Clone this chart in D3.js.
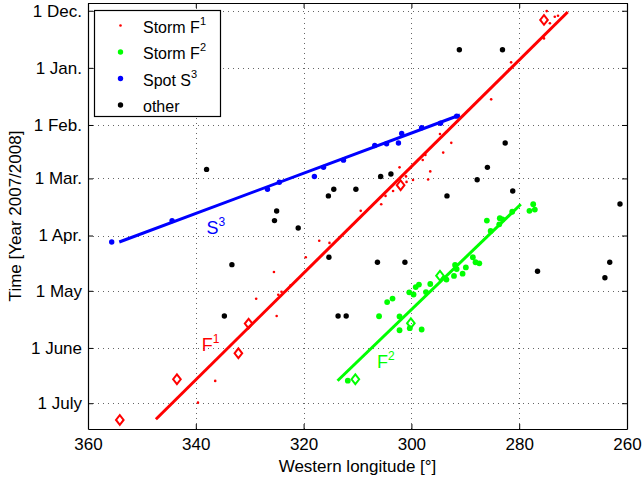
<!DOCTYPE html>
<html>
<head>
<meta charset="utf-8">
<script src="https://cdn.jsdelivr.net/npm/d3@7"></script>
<style>
  body { margin: 0; background: #fff; }
  text { font-family: "Liberation Sans", Arial, Helvetica, sans-serif; fill: #000; }
</style>
</head>
<body>
<div id="chart"></div>
<script>
// all times are days after 1 Dec. 2007, longitudes are western longitude in degrees

// Storm F1 (small red dots)
var f1Lon = [274.9, 273.4, 272.8, 274.3, 275.4, 281.5, 285.2, 294.7, 292.6, 294.1, 297.4, 297.9, 302.2,
             296.5, 301.0, 299.7, 296.9, 300.9, 303.4, 304.8, 305.6, 309.4, 317.1, 315.2, 319.6, 325.5,
             322.4, 324.1, 324.7, 328.8, 325.0, 336.4, 339.6];
var f1Day = [0.2, 3.3, 2.7, 6.8, 15.0, 28.0, 48.1, 66.9, 71.7, 77.0, 78.3, 81.0, 85.0,
             87.2, 89.9, 91.9, 91.6, 92.9, 97.8, 100.5, 105.0, 108.6, 124.8, 126.0, 133.8, 141.8,
             149.0, 152.5, 154.1, 156.3, 165.7, 200.9, 212.7];

// Storm F2 (green dots)
var f2Lon = [277.4, 278.1, 277.1, 281.3, 286.0, 283.6, 283.1, 283.7, 285.3, 288.6, 288.1, 287.4, 289.9,
             290.5, 291.9, 291.6, 292.1, 293.5, 296.5, 297.3, 298.6, 299.2, 299.6, 300.4, 303.5, 304.5,
             302.2, 306.0, 300.3, 302.2, 298.1, 311.8];
var f2Day = [105.0, 108.6, 107.9, 109.1, 113.9, 112.6, 113.2, 115.9, 119.5, 133.8, 136.5, 137.1, 139.3,
             142.7, 138.0, 140.2, 143.9, 145.9, 148.3, 152.7, 148.6, 150.0, 154.0, 152.8, 156.2, 158.1,
             165.9, 165.8, 172.3, 173.4, 173.0, 200.8];

// Spot S3 (blue dots)
var s3Lon = [355.6, 344.4, 326.7, 324.5, 318.0, 316.3, 312.6, 306.8, 304.6, 302.4, 301.8, 298.1, 294.6, 291.6];
var s3Day = [125.5, 113.9, 96.9, 93.1, 90.0, 85.0, 81.1, 73.1, 72.2, 71.8, 66.6, 63.5, 61.1, 57.2];

// other spots (black dots)
var otherLon = [291.1, 283.1, 282.6, 338.0, 305.7, 303.8, 314.4, 315.4, 310.3, 325.0, 325.4, 321.0, 333.3, 315.3,
                306.3, 301.2, 285.9, 287.8, 293.4, 281.2, 261.3, 276.6, 263.2, 264.1, 334.7, 313.6, 312.1];
var otherDay = [21.2, 21.2, 71.8, 86.1, 90.0, 88.6, 96.9, 100.5, 96.9, 108.7, 113.9, 117.9, 137.8, 133.8,
                136.5, 136.5, 85.0, 91.7, 100.5, 97.8, 104.9, 141.4, 136.5, 144.9, 165.7, 165.7, 165.7];

// diamonds
var f1DiamondLon = [354.1, 343.5, 332.1, 330.2, 302.0, 275.4];
var f1DiamondDay = [222.1, 200.0, 185.9, 169.8, 94.7, 5.0];
var f2DiamondLon = [310.4, 300.1, 294.7];
var f2DiamondDay = [200.0, 169.6, 143.8];

// fitted drift lines (start, end)
var f1FitLon = [347.4, 271.0], f1FitDay = [221.7, 0.7];
var f2FitLon = [313.7, 279.7], f2FitDay = [200.8, 105.0];
var s3FitLon = [354.2, 291.0], s3FitDay = [125.5, 56.6];

// axis ticks
var lonTicks = [360, 340, 320, 300, 280, 260];
var monthLabels = ["1 Dec.", "1 Jan.", "1 Feb.", "1 Mar.", "1 Apr.", "1 May", "1 June", "1 July"];
var monthDays = [0, 31, 62, 91, 122, 152, 183, 213];

var legendLabels = ["Storm F", "Storm F", "Spot S", "other"];
var legendSups = ["1", "2", "3", ""];
var legendColors = ["#ff0000", "#00ff00", "#0000ff", "#000000"];

var t0 = Date.UTC(2007, 11, 1);
function toDate(d) { return new Date(t0 + d * 864e5); }

var W = 643, H = 477;
var pL = 88, pR = 627, pT = 3, pB = 429;

var svg = d3.select("#chart").append("svg")
    .attr("width", W)
    .attr("height", H);

var x = d3.scaleLinear().domain([360, 260]).range([pL, pR]);
var y = d3.scaleUtc().domain([toDate(-4.2), toDate(227)]).range([pT, pB]);

var monthDates = monthDays.map(toDate);

// grid lines (dotted)
var grid = svg.append("g").attr("class", "grid");
grid.selectAll("line.gx")
    .data(lonTicks.slice(1, -1))
    .enter().append("line")
    .attr("x1", d => Math.round(x(d)) + 0.5).attr("x2", d => Math.round(x(d)) + 0.5)
    .attr("y1", pT).attr("y2", pB);
grid.selectAll("line.gy")
    .data(monthDates)
    .enter().append("line")
    .attr("y1", d => Math.round(y(d)) + 0.5).attr("y2", d => Math.round(y(d)) + 0.5)
    .attr("x1", pL).attr("x2", pR);
grid.selectAll("line")
    .style("stroke", "#666")
    .style("stroke-width", 1)
    .style("stroke-dasharray", "1,4");

// axes, ticks inward on all four sides
var fmt = function(d, i) { return monthLabels[i]; };
var gB = svg.append("g").attr("transform", "translate(0," + pB + ")")
    .call(d3.axisBottom(x).tickValues(lonTicks).tickSizeInner(-5).tickSizeOuter(0).tickPadding(9));
var gT = svg.append("g").attr("transform", "translate(0," + pT + ")")
    .call(d3.axisTop(x).tickValues(lonTicks).tickSizeInner(-5).tickSizeOuter(0).tickFormat(""));
var gL = svg.append("g").attr("transform", "translate(" + pL + ",0)")
    .call(d3.axisLeft(y).tickValues(monthDates).tickSizeInner(-5).tickSizeOuter(0).tickPadding(6).tickFormat(fmt));
var gR = svg.append("g").attr("transform", "translate(" + pR + ",0)")
    .call(d3.axisRight(y).tickValues(monthDates).tickSizeInner(-5).tickSizeOuter(0).tickFormat(""));

[gB, gT, gL, gR].forEach(function(g) {
    g.selectAll("path.domain").style("stroke", "#000").style("stroke-width", 1.2);
    g.selectAll(".tick line").style("stroke", "#000");
    g.selectAll("text").style("font-size", "17px").style("fill", "#000")
        .style("font-family", "'Liberation Sans', Arial, sans-serif");
});

// axis titles
svg.append("text")
    .attr("x", (pL + pR) / 2).attr("y", 472)
    .attr("text-anchor", "middle")
    .style("font-size", "17px")
    .text("Western longitude [°]");
svg.append("text")
    .attr("transform", "translate(21," + (pT + pB) / 2 + ") rotate(-90)")
    .attr("text-anchor", "middle")
    .style("font-size", "17px")
    .text("Time [Year 2007/2008]");

var plot = svg.append("g");

function dots(lons, days, color, r) {
    plot.append("g").selectAll("circle")
        .data(lons)
        .enter().append("circle")
        .attr("cx", d => x(d))
        .attr("cy", (d, i) => y(toDate(days[i])))
        .attr("r", r)
        .style("fill", color);
}

dots(otherLon, otherDay, "#000000", 2.7);
dots(s3Lon, s3Day, "#0000ff", 2.7);
dots(f2Lon, f2Day, "#00ff00", 2.9);
dots(f1Lon, f1Day, "#ff0000", 1.3);

// fit lines
var line = d3.line()
    .x(d => x(d[0]))
    .y(d => y(toDate(d[1])));

function fit(lons, days, color) {
    plot.append("path")
        .datum(lons.map((d, i) => [d, days[i]]))
        .attr("d", line)
        .style("fill", "none")
        .style("stroke", color)
        .style("stroke-width", 3);
}
fit(f1FitLon, f1FitDay, "#ff0000");
fit(f2FitLon, f2FitDay, "#00ff00");
fit(s3FitLon, s3FitDay, "#0000ff");

// diamonds
function diamonds(lons, days, color) {
    plot.append("g").selectAll("path")
        .data(lons)
        .enter().append("path")
        .attr("transform", (d, i) => "translate(" + x(d) + "," + y(toDate(days[i])) + ")")
        .attr("d", "M0,-4.8L3.8,0L0,4.8L-3.8,0Z")
        .style("fill", "none")
        .style("stroke", color)
        .style("stroke-width", 2);
}
diamonds(f1DiamondLon, f1DiamondDay, "#ff0000");
diamonds(f2DiamondLon, f2DiamondDay, "#00ff00");

// labels on the lines
function label(lon, day, name, sup, color) {
    var t = plot.append("text")
        .attr("x", x(lon)).attr("y", y(toDate(day)))
        .style("font-size", "18px")
        .style("fill", color);
    t.append("tspan").text(name);
    t.append("tspan").attr("dy", -8).style("font-size", "12px").text(sup);
}
label(338.0, 120.9, "S", "3", "#0000ff");
label(338.9, 184.5, "F", "1", "#ff0000");
label(306.4, 194.0, "F", "2", "#00ff00");

// legend
var lg = svg.append("g");
lg.append("rect")
    .attr("x", 94.5).attr("y", 10.5)
    .attr("width", 126).attr("height", 106)
    .style("fill", "#fff")
    .style("stroke", "#000")
    .style("stroke-width", 1.2);

legendLabels.forEach(function(name, i) {
    var cy = 25.5 + i * 26.5;
    lg.append("circle")
        .attr("cx", 120.5).attr("cy", cy)
        .attr("r", i === 0 ? 1.3 : 2.7)
        .style("fill", legendColors[i]);
    var t = lg.append("text")
        .attr("x", 143).attr("y", cy + 7)
        .style("font-size", "16px");
    t.append("tspan").text(name);
    if (legendSups[i]) t.append("tspan").attr("dy", -8).style("font-size", "11px").text(legendSups[i]);
});
</script>
</body>
</html>
